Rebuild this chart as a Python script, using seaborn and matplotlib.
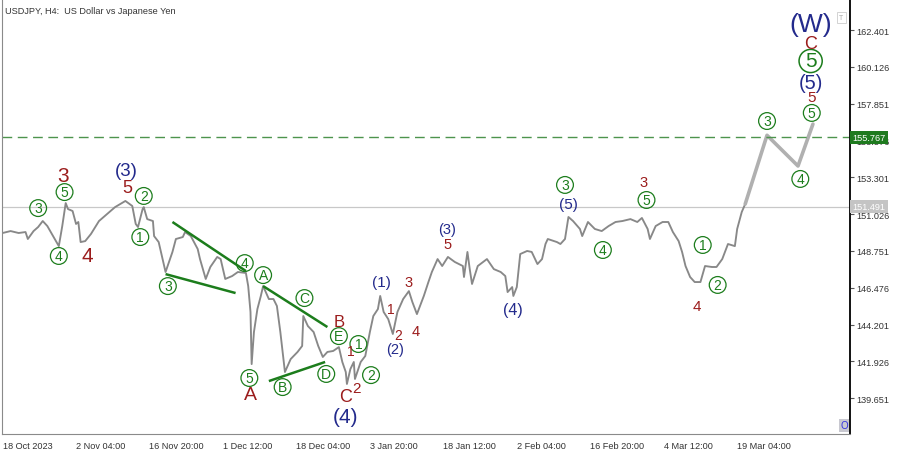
import matplotlib
matplotlib.use("Agg")
import matplotlib.pyplot as plt
import matplotlib.transforms as mtransforms
import seaborn as sns

# USDJPY H4 price path (bar index, price)
bars = [0, 7, 14, 20, 22, 27, 31, 35, 39, 44, 49, 52, 55, 57, 61, 64, 66, 68, 72, 77,
        84, 91, 98, 107, 113, 116, 118, 122, 123, 126, 131, 132, 136, 139, 142, 145, 148, 151, 157, 159,
        164, 170, 172, 177, 181, 187, 190, 194, 200, 205, 212, 214, 216, 217, 219, 222, 225, 227, 232, 236,
        239, 242, 245, 246, 251, 257, 261, 262, 266, 271, 275, 279, 283, 288, 293, 296, 299, 300, 303, 306,
        307, 312, 316, 320, 323, 327, 329, 332, 336, 340, 344, 349, 354, 357, 361, 367, 371, 374, 379, 383,
        388, 394, 401, 402, 405, 407, 409, 414, 422, 428, 434, 438, 440, 444, 445, 448, 451, 457, 461, 466,
        470, 473, 475, 483, 486, 490, 493, 497, 503, 505, 510, 516, 522, 528, 534, 540, 547, 553, 557, 562,
        564, 569, 575, 580, 584, 589, 592, 595, 599, 603, 608, 612, 618, 622, 627, 632, 638, 640, 644, 647]
prices = [149.86, 149.98, 149.86, 149.92, 149.49, 149.98, 150.23, 150.60, 150.29, 149.67,
          149.05, 150.29, 151.71, 151.34, 151.22, 150.42, 150.54, 149.30, 149.36, 149.80,
          150.60, 151.03, 151.46, 151.84, 151.53, 150.42, 150.23, 151.34, 151.46, 150.72,
          150.60, 149.67, 149.30, 148.38, 147.45, 148.07, 148.69, 149.49, 149.61, 149.92,
          149.67, 148.87, 148.25, 147.02, 147.76, 148.38, 148.25, 147.02, 147.20, 147.45,
          147.39, 146.58, 144.98, 141.76, 143.74, 145.16, 145.97, 146.58, 145.78, 145.78,
          145.35, 143.74, 141.89, 141.27, 142.07, 142.51, 142.88, 144.73, 144.11, 143.74,
          142.88, 142.20, 142.51, 142.57, 142.81, 141.89, 141.27, 140.53, 141.45, 141.89,
          140.84, 141.89, 142.26, 143.74, 144.73, 145.16, 145.97, 144.98, 144.54, 143.62,
          144.98, 145.78, 146.27, 145.60, 144.85, 145.97, 146.83, 147.45, 148.25, 147.82,
          148.38, 148.07, 147.82, 147.14, 148.69, 147.63, 146.71, 147.82, 148.25, 147.63,
          147.45, 147.20, 146.21, 146.52, 145.97, 146.52, 148.56, 148.75, 148.69, 147.94,
          148.25, 149.18, 149.49, 149.30, 149.18, 149.49, 150.85, 150.60, 150.11, 149.67,
          150.54, 150.11, 149.98, 150.29, 150.54, 150.60, 150.72, 150.54, 150.79, 150.11,
          149.49, 150.29, 150.54, 150.54, 149.92, 149.36, 148.69, 147.82, 147.14, 146.83,
          146.83, 147.82, 147.76, 147.76, 148.25, 149.18, 149.05, 150.11, 151.16, 151.65]

# forecast path
fc_bars = [647, 666, 693, 706]
fc_prices = [151.65, 155.90, 154.00, 156.59]

# trend lines (start bar, start price, end bar, end price)
trend_lines = [(148, 150.54, 212, 147.51), (142, 147.32, 203, 146.15),
               (227, 146.58, 283, 144.05), (232, 140.71, 281, 141.89)]

current_price = 151.491
target_price = 155.767
ytick_vals = [139.651, 141.926, 144.201, 146.476, 148.751, 151.026, 153.301,
              155.576, 157.851, 160.126, 162.401]
xtick_bars = [0, 64, 128, 192, 256, 320, 384, 448, 512, 576, 640]
xtick_labels = ["18 Oct 2023", "2 Nov 04:00", "16 Nov 20:00", "1 Dec 12:00", "18 Dec 04:00",
                "3 Jan 20:00", "18 Jan 12:00", "2 Feb 04:00", "16 Feb 20:00", "4 Mar 12:00",
                "19 Mar 04:00"]

# wave labels: (text, bar, price[, fontsize])
green_circles = [("3", 31, 151.40), ("5", 54, 152.39), ("4", 49, 148.44), ("2", 123, 152.15),
                 ("1", 120, 149.61), ("3", 144, 146.58), ("4", 211, 148.00), ("A", 227, 147.26),
                 ("C", 263, 145.84), ("E", 293, 143.49), ("1", 310, 143.00), ("D", 282, 141.15),
                 ("2", 321, 141.08), ("5", 215, 140.90), ("B", 244, 140.34), ("3", 490, 152.83),
                 ("4", 523, 148.81), ("5", 561, 151.90), ("1", 610, 149.12), ("2", 623, 146.65),
                 ("3", 666, 156.78), ("4", 695, 153.20), ("5", 705, 157.28)]
red_labels = [("3", 53, 153.40, 15), ("4", 74, 148.44, 15), ("5", 109, 152.70, 13),
              ("A", 216, 139.91, 14), ("B", 293, 144.42, 12), ("C", 299, 139.75, 13),
              ("2", 308, 140.30, 11), ("1", 303, 142.57, 10), ("1", 338, 145.16, 10),
              ("2", 345, 143.55, 10), ("3", 354, 146.83, 10.5), ("4", 360, 143.80, 10.5),
              ("5", 388, 149.18, 10.5), ("3", 558, 153.01, 10.5), ("4", 605, 145.35, 11),
              ("5", 705, 158.26, 11), ("C", 704, 161.55, 13)]
blue_labels = [("(3)", 108, 153.75, 13.5), ("(W)", 704, 162.80, 19), ("(5)", 704, 159.19, 14.5),
               ("(1)", 330, 146.83, 11), ("(2)", 342, 142.70, 10.5), ("(3)", 387, 150.11, 10.5),
               ("(4)", 445, 145.16, 11.5), ("(5)", 493, 151.65, 11), ("(4)", 299, 138.55, 15)]

GREEN = "#1c7d1c"
RED = "#9b1c1c"
BLUE = "#232a8c"
FONT = "Liberation Sans"

sns.set_style("white")
plt.rcParams["font.family"] = [FONT, "DejaVu Sans"]

fig = plt.figure(figsize=(9, 4.52), dpi=100)
ax = fig.add_axes([2 / 900, 1 - 435 / 452, 848 / 900, 435 / 452])

sns.lineplot(x=bars, y=prices, ax=ax, color="#888888", lw=1.35, estimator=None, sort=False)
sns.lineplot(x=fc_bars, y=fc_prices, ax=ax, color="#b0b0b0", lw=2.6, estimator=None, sort=False)

for x0, y0, x1, y1 in trend_lines:
    ax.plot([x0, x1], [y0, y1], color=GREEN, lw=1.8, solid_capstyle="butt")

ax.axhline(current_price, color="#c8c8c8", lw=0.9, zorder=0)
ax.axhline(target_price, color="#4d944d", lw=1, ls=(0, (7, 4)))

for t, b, p in green_circles:
    ax.text(b, p, t, color=GREEN, fontsize=10, ha="center", va="center",
            bbox=dict(boxstyle="circle,pad=0.1", fc="none", ec=GREEN, lw=0.9))
ax.text(704, 160.49, "5", color=GREEN, fontsize=15, ha="center", va="center",
        bbox=dict(boxstyle="circle,pad=0.1", fc="none", ec=GREEN, lw=1.1))
for t, b, p, s in red_labels:
    ax.text(b, p, t, color=RED, fontsize=s, ha="center", va="center")
for t, b, p, s in blue_labels:
    ax.text(b, p, t, color=BLUE, fontsize=s, ha="center", va="center")

ax.set_xlim(-0.5, 738.3)
ax.set_ylim(137.44, 164.32)

ax.set_xticks(xtick_bars)
ax.set_xticklabels(xtick_labels, ha="left", fontsize=6.6, color="#333333")
ax.set_yticks(ytick_vals)
ax.set_yticklabels([f"{v:.3f}" for v in ytick_vals], fontsize=6.6, color="#333333")
ax.yaxis.tick_right()
ax.tick_params(axis="both", direction="out", length=3, width=0.8, color="#555555", pad=1.5)
ax.tick_params(axis="x", pad=2)

ax.spines["top"].set_visible(False)
ax.spines["left"].set_color("#8a8a8a")
ax.spines["bottom"].set_color("#8a8a8a")
ax.spines["right"].set_color("#111111")
ax.spines["right"].set_linewidth(1.4)

trans = mtransforms.blended_transform_factory(ax.transAxes, ax.transData)
ax.text(1.003, current_price, f"{current_price:.3f}", transform=trans, fontsize=6.6,
        color="white", ha="left", va="center", clip_on=False, zorder=5,
        bbox=dict(boxstyle="square,pad=0.25", fc="#c4c4c4", ec="none"))
ax.text(1.003, target_price, f"{target_price:.3f}", transform=trans, fontsize=6.6,
        color="white", ha="left", va="center", clip_on=False, zorder=5,
        bbox=dict(boxstyle="square,pad=0.25", fc="#1e7a1e", ec="none"))

ax.text(0.004, 0.985, "USDJPY, H4:  US Dollar vs Japanese Yen", transform=ax.transAxes,
        fontsize=6.6, color="#333333", ha="left", va="top")
ax.text(0.99, 0.957, "T", transform=ax.transAxes, fontsize=5, color="#aaaaaa", ha="center",
        va="center", bbox=dict(boxstyle="square,pad=0.3", fc="white", ec="#cccccc", lw=0.6))
ax.text(0.993, 0.02, "O", transform=ax.transAxes, fontsize=7, color="#3030e0", ha="center",
        va="center", bbox=dict(boxstyle="square,pad=0.15", fc="#c8c8d0", ec="none"))

fig.savefig("out.png", dpi=100)
